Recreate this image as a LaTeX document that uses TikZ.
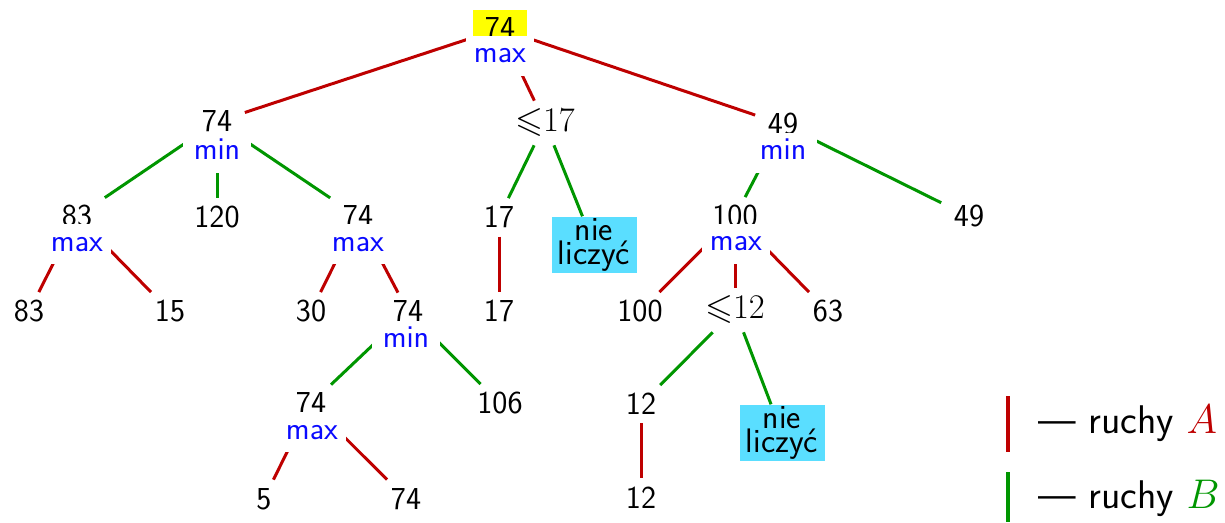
\documentclass[tikz,border=0pt]{standalone}
\usepackage{amssymb}
\usetikzlibrary{backgrounds}
\definecolor{cA}{RGB}{190,0,0}
\definecolor{cB}{RGB}{0,150,0}
\definecolor{clab}{RGB}{10,10,255}
\definecolor{cbox}{RGB}{90,222,255}
\definecolor{cyel}{RGB}{255,255,0}
\begin{document}
\begin{tikzpicture}[x=0.5pt,y=-0.5pt,
  num/.style={anchor=base, inner xsep=6.2pt, inner ysep=4pt, font=\fontsize{16}{18}\selectfont\sffamily},
  mth/.style={num, font=\fontsize{18}{20}\selectfont},
  lab/.style={anchor=base, inner sep=0pt, text height=13.5pt, text depth=6.5pt, minimum width=34pt, fill=white, text=clab, font=\fontsize{16}{18}\selectfont\sffamily},
  nl/.style={fill=cbox, minimum width=42.5pt, minimum height=28.3pt, inner sep=0pt, align=center, font=\fontsize{17}{12.4}\selectfont\sffamily},
  eA/.style={draw=cA, line width=1.5pt},
  eB/.style={draw=cB, line width=1.5pt},
  leg/.style={anchor=base west, inner sep=0pt, font=\fontsize{20}{24}\selectfont\sffamily}]
\useasboundingbox (0,0) rectangle (1225,523);
% level 0
\node[num, fill=cyel] (r) at (500,39) {74};
\node[lab] (rl) at (500,63) {max};
% level 1
\node[num] (a) at (217,132) {74};
\node[lab] (al) at (217,160) {min};
\node[mth] (b) at (545,132) {${\leqslant}17$};
\node[num] (c) at (783,135) {49};
\node[lab] (cl) at (783,160) {min};
% level 2
\node[num] (a1) at (77,227) {83};
\node[lab] (a1l) at (77,251.5) {max};
\node[num] (a2) at (217,228) {120};
\node[num] (a3) at (358,227) {74};
\node[lab] (a3l) at (358,251.5) {max};
\node[num] (b1) at (499,228) {17};
\node[nl] (b2) at (594,245) {nie\\liczyć};
\node[num] (c1) at (735,227) {100};
\node[lab] (c1l) at (736,251) {max};
\node[num] (c2) at (969,227) {49};
% level 3
\node[num] (a11) at (29,322) {83};
\node[num] (a12) at (170,322) {15};
\node[num] (a31) at (311,322) {30};
\node[num] (a32) at (408,322) {74};
\node[lab] (a32l) at (406,348) {min};
\node[num] (b11) at (499,322) {17};
\node[num] (c11) at (640,322) {100};
\node[mth] (c12) at (735,319) {${\leqslant}12$};
\node[num] (c13) at (828,322) {63};
% level 4
\node[num] (a321) at (311,414) {74};
\node[lab] (a321l) at (312,439) {max};
\node[num] (a322) at (500,414) {106};
\node[num] (c121) at (641,415) {12};
\node[nl] (c122) at (782,433) {nie\\liczyć};
% level 5
\node[num] (a3211) at (264,509) {5};
\node[num] (a3212) at (406,509) {74};
\node[num] (c1211) at (641,508) {12};
% legend
\coordinate (lA1) at (1008,396);
\coordinate (lA2) at (1008,452);
\coordinate (lB1) at (1008,472);
\coordinate (lB2) at (1008,522);
\node[leg] (tA) at (1038,433) {— ruchy \textcolor{cA}{$A$}};
\node[leg] (tB) at (1038,508) {— ruchy \textcolor{cB}{$B$}};
\draw[eA, line width=1.6pt] (lA1) -- (lA2);
\draw[eB, line width=1.6pt] (lB1) -- (lB2);
% edges
\begin{scope}[on background layer]
\draw[eA] (r) -- (a);
\draw[eA] (r) -- (b);
\draw[eA] (r) -- (c);
\draw[eB] (a) -- (a1);
\draw[eB] (a) -- (a2);
\draw[eB] (a) -- (a3);
\draw[eB] (b) -- (b1);
\draw[eB] (b) -- (b2);
\draw[eB] (c) -- (c1);
\draw[eB] (c) -- (c2);
\draw[eA] (a1) -- (a11);
\draw[eA] (a1) -- (a12);
\draw[eA] (a3) -- (a31);
\draw[eA] (a3) -- (a32);
\draw[eA] (b1) -- (b11);
\draw[eA] (c1) -- (c11);
\draw[eA] (c1) -- (c12);
\draw[eA] (c1) -- (c13);
\draw[eB] (a32) -- (a321);
\draw[eB] (a32) -- (a322);
\draw[eB] (c12) -- (c121);
\draw[eB] (c12) -- (c122);
\draw[eA] (a321) -- (a3211);
\draw[eA] (a321) -- (a3212);
\draw[eA] (c121) -- (c1211);
\end{scope}
\end{tikzpicture}
\end{document}
